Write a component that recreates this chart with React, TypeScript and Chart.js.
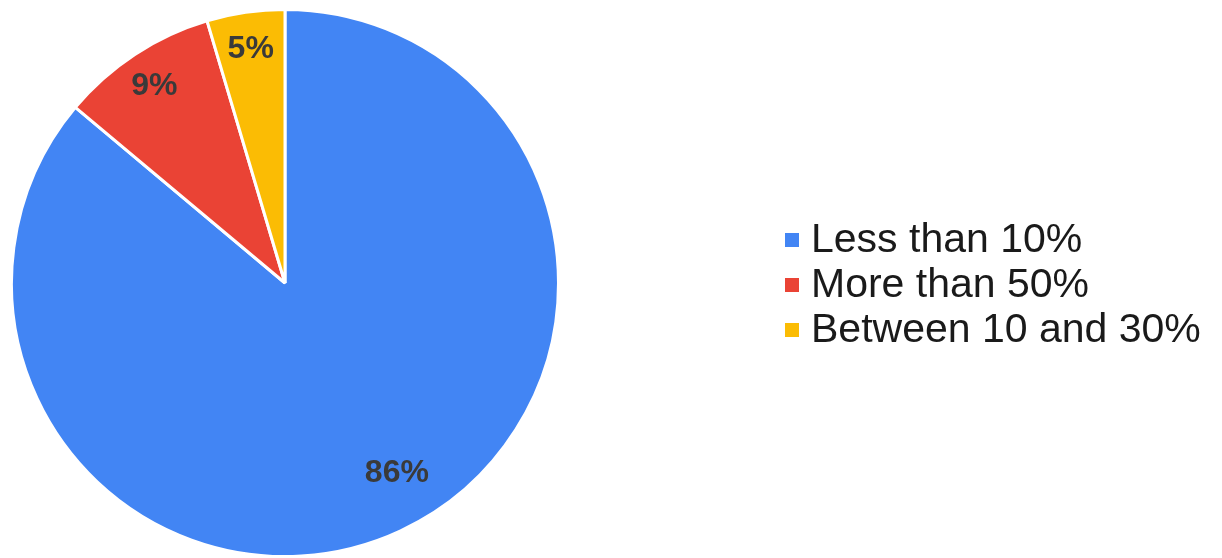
import React, { useEffect, useRef } from "react";
import { Chart, registerables } from "chart.js";

Chart.register(...registerables);

const categories = ["Less than 10%", "More than 50%", "Between 10 and 30%"];
const shares = [86.1, 9.3, 4.6];
const sliceColors = ["#4285F4", "#EA4335", "#FBBC04"];

const FONT = "Arial, 'Liberation Sans', Helvetica, sans-serif";

const sliceLabels = {
  id: "sliceLabels",
  afterDatasetsDraw(chart: any) {
    const ctx = chart.ctx;
    const meta = chart.getDatasetMeta(0);
    const data = chart.data.datasets[0].data as number[];
    ctx.save();
    ctx.font = `bold 32px ${FONT}`;
    ctx.fillStyle = "#3a3a3a";
    ctx.textAlign = "center";
    ctx.textBaseline = "middle";
    meta.data.forEach((arc: any, i: number) => {
      const p = arc.getProps(["x", "y", "startAngle", "endAngle", "outerRadius"], true);
      const mid = (p.startAngle + p.endAngle) / 2;
      const big = data[i] > 50;
      const r = p.outerRadius * (big ? 0.8 : 0.87);
      const shift = big ? -0.1 : 0;
      const a = mid + shift;
      ctx.fillText(`${Math.round(data[i])}%`, p.x + Math.cos(a) * r, p.y + Math.sin(a) * r + 2);
    });
    ctx.restore();
  },
};

const sideLegend = {
  id: "sideLegend",
  afterDraw(chart: any) {
    const ctx = chart.ctx;
    const labels = chart.data.labels as string[];
    const colors = chart.data.datasets[0].backgroundColor as string[];
    ctx.save();
    ctx.font = `41px ${FONT}`;
    ctx.textBaseline = "middle";
    ctx.textAlign = "left";
    labels.forEach((lab, i) => {
      const cy = 240 + i * 45;
      ctx.fillStyle = colors[i];
      ctx.fillRect(785, cy - 7, 14, 14);
      ctx.fillStyle = "#1a1a1a";
      ctx.fillText(lab, 811, cy + 1);
    });
    ctx.restore();
  },
};

export default function App() {
  const ref = useRef<HTMLCanvasElement>(null);
  useEffect(() => {
    if (!ref.current) return;
    const chart = new Chart(ref.current, {
      type: "pie",
      data: {
        labels: categories,
        datasets: [
          {
            data: shares,
            backgroundColor: sliceColors,
            borderColor: "#ffffff",
            borderWidth: 3,
          },
        ],
      },
      options: {
        responsive: false,
        animation: false,
        layout: { padding: { left: 10, top: 8, right: 662, bottom: 0 } },
        plugins: {
          legend: { display: false },
          tooltip: { enabled: false },
        },
      },
      plugins: [sliceLabels, sideLegend],
    });
    return () => chart.destroy();
  }, []);
  return (
    <div style={{ position: "fixed", left: 0, top: 0, width: 1222, height: 558, background: "#fff" }}>
      <canvas ref={ref} width={1222} height={558} />
    </div>
  );
}
